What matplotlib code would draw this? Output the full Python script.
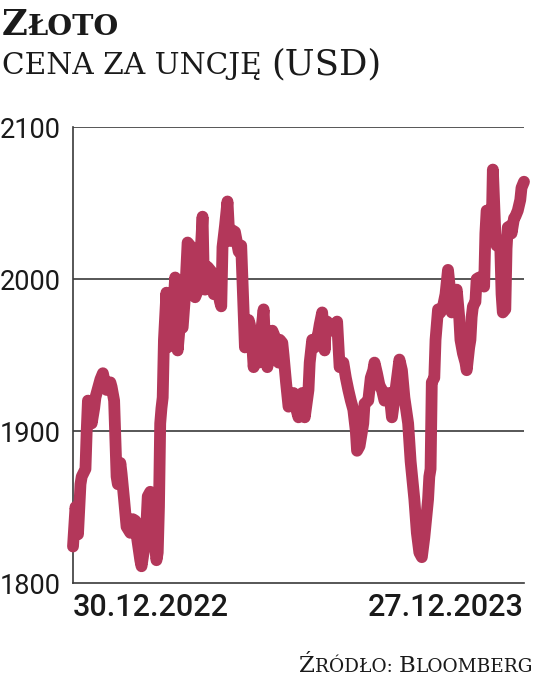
import matplotlib
matplotlib.use("Agg")
import matplotlib.pyplot as plt
from matplotlib.transforms import IdentityTransform

# gold price, days since 30.12.2022
days = [0, 2, 3, 4, 6, 7, 10, 11, 12, 14, 15, 17, 18, 20, 22, 24, 26, 27, 30, 31,
        33, 35, 36, 38, 39, 41, 43, 46, 48, 50, 51, 54, 55, 57, 59, 60, 62, 63, 65, 67,
        68, 69, 70, 71, 72, 73, 75, 76, 78, 79, 80, 82, 83, 84, 86, 88, 90, 92, 95, 96,
        98, 100, 102, 104, 105, 106, 108, 111, 113, 116, 118, 119, 120, 122, 124, 125, 126, 128, 130, 133,
        135, 137, 138, 141, 142, 144, 145, 147, 149, 151, 153, 154, 156, 158, 160, 162, 165, 166, 168, 169,
        171, 173, 175, 177, 179, 181, 182, 184, 186, 189, 190, 192, 194, 197, 198, 200, 202, 203, 204, 208,
        210, 212, 214, 217, 219, 221, 223, 225, 227, 228, 230, 233, 234, 237, 239, 241, 242, 244, 246, 248,
        250, 252, 254, 256, 257, 260, 262, 264, 266, 269, 271, 274, 276, 278, 280, 282, 285, 286, 287, 288,
        290, 291, 293, 295, 297, 299, 301, 303, 304, 307, 308, 310, 311, 313, 315, 316, 318, 319, 320, 321,
        323, 324, 326, 328, 330, 331, 332, 334, 336, 337, 339, 340, 342, 343, 344, 345, 347, 348, 349, 351,
        352, 354, 355, 357, 359, 360, 362]
prices = [1824, 1850, 1845, 1832, 1865, 1870, 1875, 1900, 1920, 1918, 1905, 1915, 1922, 1928, 1934, 1938, 1930, 1927, 1932, 1929,
          1920, 1870, 1865, 1879, 1872, 1855, 1837, 1833, 1842, 1841, 1832, 1815, 1811, 1822, 1840, 1857, 1860, 1855, 1830, 1815,
          1820, 1850, 1905, 1915, 1922, 1960, 1991, 1955, 1990, 1960, 1975, 2001, 1960, 1953, 1972, 1968, 1990, 2024, 2021, 2000,
          1988, 1992, 2010, 2041, 2000, 1993, 2008, 2005, 1990, 1993, 1985, 1982, 2021, 2035, 2051, 2035, 2025, 2032, 2031, 2018,
          2022, 1978, 1955, 1973, 1970, 1955, 1942, 1960, 1945, 1965, 1980, 1960, 1942, 1955, 1966, 1962, 1945, 1960, 1958, 1950,
          1932, 1916, 1918, 1925, 1915, 1909, 1915, 1925, 1909, 1927, 1945, 1960, 1955, 1965, 1970, 1978, 1953, 1970, 1972, 1966,
          1968, 1972, 1942, 1945, 1935, 1927, 1920, 1914, 1900, 1887, 1890, 1905, 1918, 1920, 1935, 1940, 1945, 1938, 1930, 1927,
          1920, 1922, 1925, 1909, 1915, 1934, 1947, 1940, 1922, 1905, 1880, 1855, 1833, 1820, 1817, 1830, 1855, 1870, 1875, 1932,
          1935, 1960, 1980, 1978, 1982, 1990, 2006, 1990, 1978, 1990, 1993, 1975, 1960, 1951, 1945, 1940, 1955, 1960, 1975, 1982,
          1985, 2000, 2001, 2000, 1995, 2030, 2045, 2040, 2030, 2072, 2030, 2022, 2025, 2020, 1990, 1978, 1980, 2020, 2034, 2035,
          2030, 2040, 2041, 2045, 2052, 2060, 2064]
yticks = [1800, 1900, 2000, 2100]
xtick_days = [0, 362]
xtick_labels = ["30.12.2022", "27.12.2023"]

W, H = 536, 680
fig = plt.figure(figsize=(W / 100, H / 100), dpi=100)
fig.patch.set_facecolor("white")
ax = fig.add_axes([73 / W, 1 - 583 / H, (524 - 73) / W, (583 - 127) / H])

for v in yticks[1:]:
    ax.axhline(v, color="#3a3a3a", lw=1.2, zorder=0)
ax.plot(days, prices, color="#b3375a", lw=8.5, solid_joinstyle="round",
        solid_capstyle="round", clip_on=False, zorder=3)

ax.set_xlim(0, 362)
ax.set_ylim(1800, 2100)
for s in ["top", "right"]:
    ax.spines[s].set_visible(False)
for s in ["left", "bottom"]:
    ax.spines[s].set_color("#3a3a3a")
    ax.spines[s].set_linewidth(1.2)

ax.set_yticks(yticks)
ax.set_yticklabels([str(v) for v in yticks], fontfamily="Roboto", fontsize=19.5, color="#1a1a1a")
ax.set_xticks(xtick_days)
ax.set_xticklabels(xtick_labels, fontfamily="Roboto", fontsize=22, fontweight="medium", color="#1a1a1a")
ax.tick_params(axis="both", length=0)
ax.tick_params(axis="y", pad=9)
ax.tick_params(axis="x", pad=7.5)
xl = ax.get_xticklabels()
xl[0].set_ha("left")
xl[1].set_ha("right")

renderer = fig.canvas.get_renderer()


def small_caps(parts, x, y, ha="left", weight="normal"):
    # draw pieces side by side in pixel coords, baseline at y
    texts = []
    for s, size in parts:
        t = fig.text(0, y, s, transform=IdentityTransform(), fontfamily="DejaVu Serif",
                     fontsize=size, fontweight=weight, color="#1a1a1a", va="baseline")
        texts.append(t)
    widths = [t.get_window_extent(renderer).width for t in texts]
    cur = x - sum(widths) if ha == "right" else x
    for t, w in zip(texts, widths):
        t.set_x(cur)
        cur += w


small_caps([("Z", 25.5), ("ŁOTO", 20.5)], 2, H - 35, weight="bold")
small_caps([("CENA ZA UNCJĘ ", 21.3), ("(USD)", 25.5)], 2, H - 74)
small_caps([("Ź", 16.5), ("RÓDŁO: ", 13.3), ("B", 16.5), ("LOOMBERG", 13.3)], 533, H - 672, ha="right")

fig.savefig("out.png", dpi=100)
